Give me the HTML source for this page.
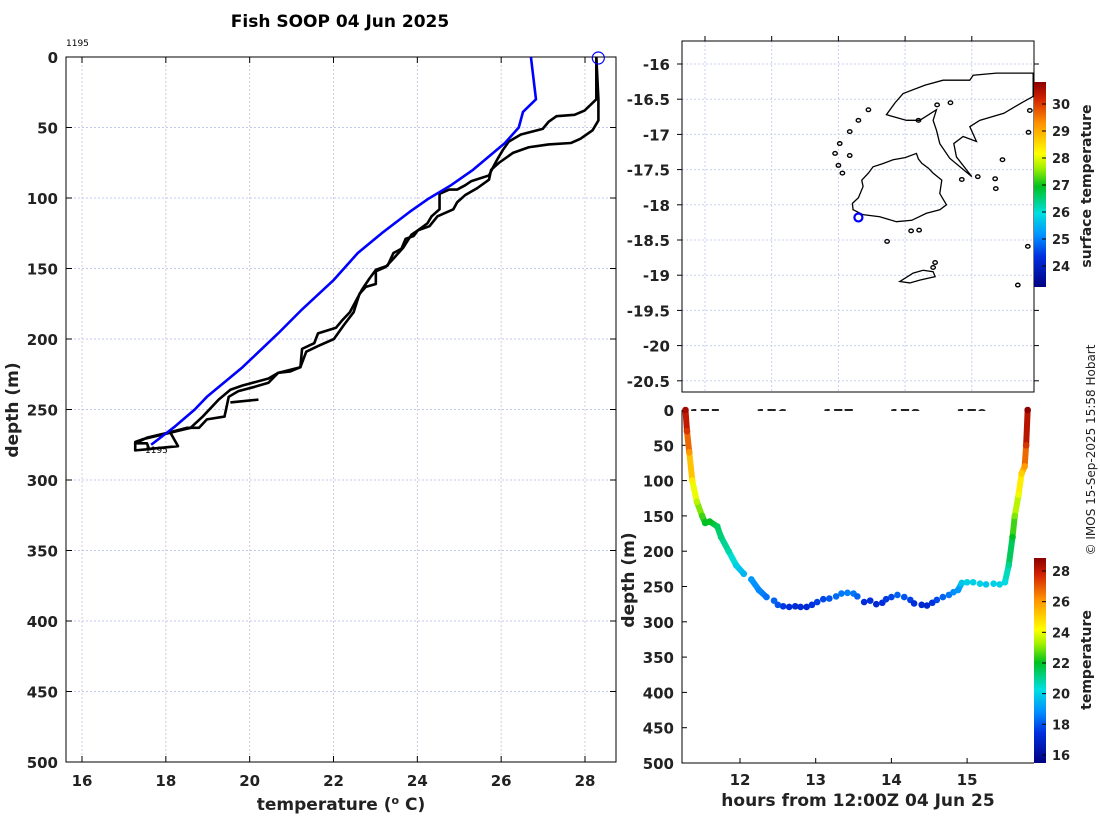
<!DOCTYPE html>
<html><head><meta charset="utf-8"><style>
html,body{margin:0;padding:0;background:#fff;width:1100px;height:820px;overflow:hidden}
svg text{font-family:"DejaVu Sans","Liberation Sans",sans-serif}
</style></head><body>
<svg id="fig" width="1100" height="820" xmlns="http://www.w3.org/2000/svg">
<defs>
<linearGradient id="jet" x1="0" y1="1" x2="0" y2="0">
<stop offset="0" stop-color="#00007f"/><stop offset="0.15" stop-color="#0030e0"/><stop offset="0.25" stop-color="#0090ff"/><stop offset="0.36" stop-color="#00e0e0"/><stop offset="0.49" stop-color="#00c020"/><stop offset="0.58" stop-color="#a0f000"/><stop offset="0.65" stop-color="#ffff00"/><stop offset="0.8" stop-color="#ff9000"/><stop offset="0.92" stop-color="#d02000"/><stop offset="1" stop-color="#8a0000"/>
</linearGradient>
</defs>
<g id="left"></g><g id="map"></g><g id="bot"></g>
<text x="340" y="27" font-size="17" font-weight="bold" text-anchor="middle">Fish SOOP 04 Jun 2025</text>
<text transform="translate(1095,450) rotate(-90)" font-size="12" text-anchor="middle" fill="#222">© IMOS 15-Sep-2025 15:58 Hobart</text>
</svg>
<script>
// ---- left profile data ----
const blueTemp=[26.71,26.83,26.52,26.42,26.09,25.33,24.8,24.24,23.81,23.15,22.58,22.01,21.25,20.68,19.83,18.98,18.69,18.22,17.65];
const blueDepth=[0,30,39,50,61,80,91,101,110,125,139,158,179,196,220,241,250,262,275];
const castATemp=[28.27,28.27,27.99,27.75,27.32,27.13,26.99,26.47,26.18,26.04,25.90,25.81,25.71,25.29,25.14,24.95,24.76,24.53,24.53,24.34,24.24,24.01,23.91,23.72,23.62,23.43,23.29,23.01,22.86,22.68,22.39,22.20,22.06,21.63,21.54,21.25,21.21,20.68,20.45,19.83,19.54,19.26,18.88,18.59,18.03,17.46,17.27,17.27,17.65];
const castADepth=[0,30,38,41,42,46,51,55,60,66,73,78,84,88,91,94,94,97,108,113,118,123,127,129,136,139,148,151,157,165,181,187,192,196,203,207,220,224,228,233,236,243,255,263,267,271,273,279,278];
const castBTemp=[28.27,28.32,28.32,28.18,27.89,27.66,27.13,26.66,26.28,25.95,25.76,25.71,25.43,25.14,24.95,24.86,24.48,24.29,24.01,23.86,23.67,23.43,23.24,23.01,23.01,22.77,22.62,22.48,22.25,22.01,21.63,21.35,21.21,20.97,20.68,20.45,20.11,19.73,19.50,19.40,18.98,18.79,18.50,18.12,17.55,17.27,17.55,17.60,18.29,18.12];
const castBDepth=[0,30,45,52,58,61,62,64,68,75,80,87,93,98,103,108,113,120,123,126,135,143,149,152,161,163,168,181,190,200,205,209,220,223,224,231,234,237,241,255,257,263,263,266,270,274,274,278,276,267];
const stubTemp=[19.54,20.21];
const stubDepth=[245,243];
const tempTicks=[16,18,20,22,24,26,28];
const depthTicks=[0,50,100,150,200,250,300,350,400,450,500];
// ---- map data ----
const latTicks=[-16,-16.5,-17,-17.5,-18,-18.5,-19,-19.5,-20,-20.5];
const lonTicks=[175,176,177,178,179];
const shipLon=[177.30], shipLat=[-18.18];
const sstTicks=[24,25,26,27,28,29,30];
// ---- section data ----
const secHours=[11.28,11.3,11.33,11.37,11.43,11.5,11.54,11.6,11.7,11.75,11.85,11.95,12.05,12.15,12.25,12.35,12.45,12.5,12.57,12.65,12.73,12.8,12.88,12.95,13.02,13.1,13.18,13.27,13.34,13.42,13.5,13.55,13.64,13.72,13.8,13.88,13.93,14.0,14.08,14.17,14.25,14.3,14.4,14.47,14.54,14.6,14.68,14.76,14.82,14.88,14.93,15.0,15.08,15.17,15.25,15.35,15.43,15.5,15.55,15.6,15.63,15.68,15.72,15.76,15.78,15.8];
const secDepth=[0,30,60,100,130,150,160,158,165,180,200,220,232,240,255,265,270,276,278,279,278,279,279,276,272,268,267,264,260,259,260,264,272,270,275,273,268,265,262,265,269,274,276,277,273,269,265,262,258,255,245,244,244,246,247,246,247,244,220,180,150,120,90,80,50,0];
const secTemp=[28.5,27.5,26,24.5,23.5,22.5,22,22,21.5,21.2,20.8,20,19.5,19,18.7,18.4,18.2,18,17.6,17.4,17.3,17.3,17.2,17.5,17.7,17.8,18,18.3,18.5,18.6,18.5,18.2,17.3,17.4,17.2,17.4,17.6,17.8,18.2,18,17.7,17.4,17.2,17.1,17.5,17.8,18.2,18.5,18.8,19,19.8,20,20,20,19.8,20,20,20.2,21,22,23,24,25,26,27.5,28.8];
const hourTicks=[12,13,14,15];
const secCbTicks=[16,18,20,22,24,26,28];

const NS='http://www.w3.org/2000/svg';
function mk(parent,tag,attrs,txt){const e=document.createElementNS(NS,tag);for(const k in attrs)e.setAttribute(k,attrs[k]);if(txt!==undefined)e.textContent=txt;parent.appendChild(e);return e;}
const CS=[[0,0,0,127],[0.15,0,48,224],[0.25,0,144,255],[0.36,0,224,224],[0.49,0,192,32],[0.58,160,240,0],[0.65,255,255,0],[0.8,255,144,0],[0.92,208,32,0],[1,138,0,0]];
function jet(v){v=Math.max(0,Math.min(1,v));for(let i=0;i<CS.length-1;i++){const a=CS[i],b=CS[i+1];if(v<=b[0]){const f=(v-a[0])/(b[0]-a[0]);return `rgb(${Math.round(a[1]+f*(b[1]-a[1]))},${Math.round(a[2]+f*(b[2]-a[2]))},${Math.round(a[3]+f*(b[3]-a[3]))})`;}}return 'rgb(138,0,0)';}

// ================= LEFT =================
(function(){
const g=document.getElementById('left');
const X0=66,X1=616,Y0=57,Y1=762;
const xs=t=>82+(t-16)*(585-82)/12, ys=d=>Y0+d*(Y1-Y0)/500;
tempTicks.forEach(t=>{const l=mk(g,'line',{x1:xs(t),x2:xs(t),y1:Y0,y2:Y1,stroke:'#d8c8e0','stroke-width':1,'stroke-dasharray':'2,2'});});
depthTicks.forEach(d=>{const l=mk(g,'line',{x1:X0,x2:X1,y1:ys(d),y2:ys(d),stroke:'#c0c8f0','stroke-width':1,'stroke-dasharray':'2,2'});});
const ax=mk(g,'rect',{x:X0,y:Y0,width:X1-X0,height:Y1-Y0,fill:'none',stroke:'#000','stroke-width':1});

tempTicks.forEach(t=>{mk(g,'line',{x1:xs(t),x2:xs(t),y1:Y1,y2:Y1-6,stroke:'#000'});mk(g,'line',{x1:xs(t),x2:xs(t),y1:Y0,y2:Y0+6,stroke:'#000'});
const tx=mk(g,'text',{x:xs(t),y:Y1+24,'font-size':15,'font-weight':'bold','text-anchor':'middle',fill:'#222'},t);});
depthTicks.forEach(d=>{mk(g,'line',{x1:X0,x2:X0+6,y1:ys(d),y2:ys(d),stroke:'#000'});mk(g,'line',{x1:X1,x2:X1-6,y1:ys(d),y2:ys(d),stroke:'#000'});
const tx=mk(g,'text',{x:X0-8,y:ys(d)+6,'font-size':15,'font-weight':'bold','text-anchor':'end',fill:'#222'},d);});
const xt=mk(g,'text',{x:341,y:810,'font-size':17,'font-weight':'bold','text-anchor':'middle',fill:'#222'});xt.innerHTML='temperature (<tspan font-size="11" dy="-6">o</tspan><tspan dy="6"> C)</tspan>';

const yt=mk(g,'text',{transform:'translate(18,410) rotate(-90)','font-size':17,'font-weight':'bold','text-anchor':'middle',fill:'#222'},'depth (m)');

function line(T,D,col,name){const p=mk(g,'polyline',{points:T.map((t,i)=>xs(t)+','+ys(D[i])).join(' '),fill:'none',stroke:col,'stroke-width':2.6,'stroke-linejoin':'round'});}
line(castATemp,castADepth,'#000','downcast-profile');
line(castBTemp,castBDepth,'#000','upcast-profile');
line(stubTemp,stubDepth,'#000','profile-fragment');
line(blueTemp,blueDepth,'#0000ff','climatology-profile');
const c=mk(g,'circle',{cx:xs(castATemp[0])+2,cy:ys(castADepth[0])+1,r:6,fill:'none',stroke:'#0000ff','stroke-width':1.2});
const a=mk(g,'text',{x:66,y:46,'font-size':9},'1195');
const b=mk(g,'text',{x:145,y:453,'font-size':9},'1195');
})();

// ================= MAP =================
(function(){
const g=document.getElementById('map');
const X0=682,X1=1034,Y0=41,Y1=392;
const lx=lo=>705+(lo-175)*66.7, ly=la=>64+(-16-la)*70.4;
lonTicks.forEach(l=>{const e=mk(g,'line',{x1:lx(l),x2:lx(l),y1:Y0,y2:Y1,stroke:'#c8d0f0','stroke-dasharray':'2,2'});
mk(g,'line',{x1:lx(l),x2:lx(l),y1:Y0,y2:Y0-5,stroke:'#000'});
const t=mk(g,'text',{x:lx(l),y:420,'font-size':15,'font-weight':'bold','text-anchor':'middle',fill:'#222'},l);});
latTicks.forEach(l=>{const e=mk(g,'line',{x1:X0,x2:X1,y1:ly(l),y2:ly(l),stroke:'#c8d0f0','stroke-dasharray':'2,2'});
mk(g,'line',{x1:X1,x2:X1+5,y1:ly(l),y2:ly(l),stroke:'#000'});mk(g,'line',{x1:X0,x2:X0-5,y1:ly(l),y2:ly(l),stroke:'#000'});
const t=mk(g,'text',{x:X0-12,y:ly(l)+6,'font-size':15,'font-weight':'bold','text-anchor':'end',fill:'#222'},l);});
const ax=mk(g,'rect',{x:X0,y:Y0,width:X1-X0,height:Y1-Y0,fill:'none',stroke:'#000'});
const coasts=[
[[177.21,-17.98],[177.30,-17.90],[177.37,-17.74],[177.35,-17.65],[177.45,-17.55],[177.52,-17.46],[177.65,-17.42],[177.82,-17.36],[178.0,-17.33],[178.17,-17.27],[178.2,-17.35],[178.25,-17.41],[178.35,-17.48],[178.42,-17.55],[178.55,-17.65],[178.52,-17.84],[178.62,-18.0],[178.52,-18.07],[178.32,-18.12],[178.10,-18.22],[177.87,-18.24],[177.62,-18.17],[177.37,-18.14],[177.22,-18.07]],
[[177.72,-16.72],[177.85,-16.55],[177.97,-16.42],[178.3,-16.3],[178.57,-16.23],[178.97,-16.23],[179.02,-16.16],[179.37,-16.13],[179.92,-16.13],[179.92,-16.46],[179.75,-16.55],[179.48,-16.70],[179.12,-16.80],[178.97,-16.89],[179.07,-17.10],[178.87,-17.03],[178.73,-17.13],[178.77,-17.32],[179.0,-17.60],[178.67,-17.34],[178.52,-17.13],[178.47,-16.94],[178.42,-16.80],[178.47,-16.65],[178.22,-16.80],[178.02,-16.80]],
[[177.92,-19.09],[178.12,-18.97],[178.27,-18.93],[178.42,-18.95],[178.45,-19.02],[178.22,-19.07],[178.07,-19.11]]
];
coasts.forEach(c=>{const p=mk(g,'polygon',{points:c.map(q=>lx(q[0])+','+ly(q[1])).join(' '),fill:'none',stroke:'#000','stroke-width':1.3});});
const isl=[[179.46,-17.36],[179.36,-17.77],[178.85,-17.64],[177.73,-18.52],[178.21,-18.36],[178.09,-18.37],[179.84,-18.59],[179.69,-19.14],[178.42,-18.89],[178.45,-18.82],[178.20,-16.80],[178.48,-16.58],[178.68,-16.55],[177.17,-16.96],[177.30,-16.80],[177.45,-16.65],[177.02,-17.13],[176.95,-17.27],[177.0,-17.44],[177.06,-17.55],[177.17,-17.30],[179.09,-17.60],[179.35,-17.63],[179.85,-16.97],[179.87,-16.66]];
isl.forEach(q=>{const e=mk(g,'ellipse',{cx:lx(q[0]),cy:ly(q[1]),rx:2.2,ry:1.8,fill:'none',stroke:'#000','stroke-width':1.4});});
const s=mk(g,'circle',{cx:lx(shipLon[0]),cy:ly(shipLat[0]),r:4,fill:'none',stroke:'#0000ff','stroke-width':2.2});
const cb=mk(g,'rect',{x:1034,y:82,width:12,height:205,fill:'url(#jet)'});
const cy=v=>104+(30-v)*27;
sstTicks.forEach(v=>{mk(g,'line',{x1:1046,x2:1042,y1:cy(v),y2:cy(v),stroke:'#000'});
const t=mk(g,'text',{x:1052,y:cy(v)+5,'font-size':13,'font-weight':'bold',fill:'#222'},v);});
const ct=mk(g,'text',{transform:'translate(1091,186) rotate(-90)','font-size':14,'font-weight':'bold','text-anchor':'middle',fill:'#222'},'surface temperature');
})();

// ================= SECTION =================
(function(){
const g=document.getElementById('bot');
const X0=682,X1=1034,Y0=410,Y1=763;
mk(g,'rect',{x:X0,y:Y0+1,width:X1-X0,height:30,fill:'#fff'});
const xs=h=>740+(h-12)*75.7, ys=d=>Y0+d*(Y1-Y0)/500;
const vmin=15.48,vmax=28.85, col=v=>jet((v-vmin)/(vmax-vmin));
const ax=mk(g,'polyline',{points:`${X0},${Y0} ${X0},${Y1} ${X1},${Y1}`,fill:'none',stroke:'#000'});
hourTicks.forEach(h=>{mk(g,'line',{x1:xs(h),x2:xs(h),y1:Y1,y2:Y1-5,stroke:'#000'});
const t=mk(g,'text',{x:xs(h),y:Y1+22,'font-size':15,'font-weight':'bold','text-anchor':'middle',fill:'#222'},h);});
depthTicks.forEach(d=>{mk(g,'line',{x1:X0,x2:X0+5,y1:ys(d),y2:ys(d),stroke:'#000'});
const t=mk(g,'text',{x:X0-8,y:ys(d)+6,'font-size':15,'font-weight':'bold','text-anchor':'end',fill:'#222'},d);});
const xt=mk(g,'text',{x:858,y:806,'font-size':17,'font-weight':'bold','text-anchor':'middle',fill:'#222'},'hours from 12:00Z 04 Jun 25');
const yt=mk(g,'text',{transform:'translate(634,580) rotate(-90)','font-size':17,'font-weight':'bold','text-anchor':'middle',fill:'#222'},'depth (m)');
for(let i=0;i<secHours.length-1;i++){if(Math.abs(secDepth[i+1]-secDepth[i])>9||secHours[i]<11.8){const l=mk(g,'line',{x1:xs(secHours[i]),y1:ys(secDepth[i]),x2:xs(secHours[i+1]),y2:ys(secDepth[i+1]),stroke:col((secTemp[i]+secTemp[i+1])/2),'stroke-width':6,'stroke-linecap':'round'});}}
secHours.forEach((h,i)=>{const c=mk(g,'circle',{cx:xs(h),cy:ys(secDepth[i]),r:3.3,fill:col(secTemp[i])});});
const cb=mk(g,'rect',{x:1034,y:558,width:12,height:205,fill:'url(#jet)'});
const cy=v=>571+(28-v)*15.33;
secCbTicks.forEach(v=>{mk(g,'line',{x1:1046,x2:1042,y1:cy(v),y2:cy(v),stroke:'#000'});
const t=mk(g,'text',{x:1052,y:cy(v)+5,'font-size':13,'font-weight':'bold',fill:'#222'},v);});
const ct=mk(g,'text',{transform:'translate(1091,660) rotate(-90)','font-size':14,'font-weight':'bold','text-anchor':'middle',fill:'#222'},'temperature');
})();
</script>
</body></html>
